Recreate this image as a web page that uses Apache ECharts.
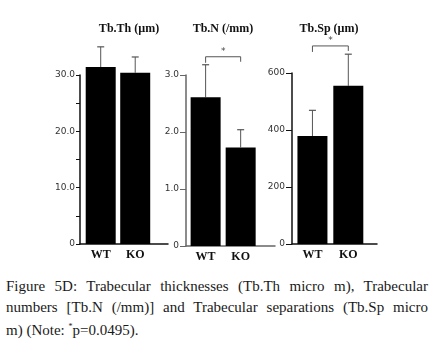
<!DOCTYPE html>
<html>
<head>
<meta charset="utf-8">
<script src="https://cdn.jsdelivr.net/npm/echarts@6/dist/echarts.min.js"></script>
<style>
  body { margin: 0; background: #fff; }
  #chart { position: absolute; left: 0; top: 0; width: 434px; height: 265px; }
  #cap { position: absolute; left: 6px; top: 276px; width: 422px;
         font-family: 'Liberation Serif', 'DejaVu Serif', serif; font-size: 15px;
         line-height: 20.5px; color: #1a1a1a; }
  #cap div { text-align: justify; text-align-last: justify; }
  #cap div.last { text-align: left; text-align-last: left; }
  #cap sup { font-size: 8px; vertical-align: 6px; }
</style>
</head>
<body>
<div id="chart"></div>
<div id="cap">
  <div>Figure 5D: Trabecular thicknesses (Tb.Th micro m), Trabecular</div>
  <div>numbers [Tb.N (/mm)] and Trabecular separations (Tb.Sp micro</div>
  <div class="last">m) (Note: <sup>*</sup>p=0.0495).</div>
</div>
<script>
var cats = ['WT', 'KO'];
var titles = ['Tb.Th (µm)', 'Tb.N (/mm)', 'Tb.Sp (µm)'];

// mean and SD for each panel, WT then KO
var thMean = [31.4, 30.4];
var thSd = [3.6, 2.8];
var nMean = [2.61, 1.73];
var nSd = [0.57, 0.31];
var spMean = [379, 555];
var spSd = [90, 111];

// significance brackets: [from, to, height]
var nSig = [0, 1, 3.32];
var spSig = [0, 1, 695];

// y axis ranges
var yMax = [30, 3, 600];
var yStep = [5, 1, 200];

var chart = echarts.init(document.getElementById('chart'));

var grids = [
  { left: 80, top: 75, width: 88, height: 169 },
  { left: 186, top: 75, width: 89, height: 171 },
  { left: 292, top: 73, width: 85, height: 171 }
];
var xRange = [[-0.6, 1.95], [-0.56, 1.98], [-0.57, 1.8]];
var titleX = [124, 218, 324];
var axisCol = ['#111', '#666', '#111'];

function errItem(params, api) {
  var x = api.value(0), m = api.value(1), s = api.value(2);
  var p0 = api.coord([x, m]);
  var p1 = api.coord([x, m + s]);
  return {
    type: 'group',
    children: [
      { type: 'line', shape: { x1: p0[0], y1: p0[1], x2: p1[0], y2: p1[1] }, style: { stroke: '#555', lineWidth: 1 } },
      { type: 'line', shape: { x1: p1[0] - 3.5, y1: p1[1], x2: p1[0] + 3.5, y2: p1[1] }, style: { stroke: '#555', lineWidth: 1.2 } }
    ]
  };
}

function sigItem(params, api) {
  var a = api.coord([api.value(0), api.value(2)]);
  var b = api.coord([api.value(1), api.value(2)]);
  return {
    type: 'group',
    children: [
      { type: 'polyline', shape: { points: [[a[0], a[1] + 6], a, b, [b[0], b[1] + 5]] },
        style: { stroke: '#555', lineWidth: 1, fill: null } },
      { type: 'text', style: { text: '*', x: (a[0] + b[0]) / 2, y: a[1] - 5, fill: '#444',
        font: '9px DejaVu Sans', textAlign: 'center', textVerticalAlign: 'middle' } }
    ]
  };
}

function fmt(i) {
  return function (v) {
    if (v === 0) return '0';
    if (i === 0) return v % 10 === 0 ? v.toFixed(1) : '';
    if (i === 1) return v.toFixed(1);
    return String(v);
  };
}

var means = [thMean, nMean, spMean];
var sds = [thSd, nSd, spSd];
var sigs = [null, nSig, spSig];

var xAxes = [], yAxes = [], series = [], titleList = [];
for (var i = 0; i < 3; i++) {
  titleList.push({
    text: titles[i], left: titleX[i], top: 18, textAlign: 'center',
    textStyle: { fontFamily: 'Liberation Serif', fontWeight: 'bold', fontSize: 12, color: '#111' }
  });
  xAxes.push({
    type: 'value', gridIndex: i, min: xRange[i][0], max: xRange[i][1],
    splitLine: { show: false },
    axisTick: { show: false },
    axisLine: { onZero: false, lineStyle: { color: axisCol[i], width: 1.5 } },
    axisLabel: {
      customValues: [0, 1], margin: 5,
      formatter: function (v) { return cats[Math.round(v)]; },
      fontFamily: 'Liberation Serif', fontWeight: 'bold', fontSize: 12, color: '#111'
    }
  });
  yAxes.push({
    type: 'value', gridIndex: i, min: 0, max: yMax[i], interval: yStep[i],
    splitLine: { show: false },
    axisLine: { show: true, onZero: false, lineStyle: { color: axisCol[i], width: 1.5 } },
    axisTick: { show: true, length: i === 0 ? 4 : 6, lineStyle: { color: axisCol[i] } },
    axisLabel: {
      margin: i === 0 ? 5 : 7, formatter: fmt(i),
      fontFamily: 'DejaVu Sans', fontSize: 9, color: '#333'
    }
  });
  var bars = [], errs = [];
  for (var k = 0; k < cats.length; k++) {
    bars.push([k, means[i][k]]);
    errs.push([k, means[i][k], sds[i][k]]);
  }
  series.push({
    type: 'custom', xAxisIndex: i, yAxisIndex: i, renderItem: errItem,
    data: errs, z: 1, silent: true
  });
  series.push({
    type: 'bar', xAxisIndex: i, yAxisIndex: i, data: bars, barWidth: 30,
    itemStyle: { color: '#000' }, clip: false, z: 2, silent: true
  });
  if (sigs[i]) {
    series.push({
      type: 'custom', xAxisIndex: i, yAxisIndex: i, renderItem: sigItem,
      data: [sigs[i]], z: 3, silent: true
    });
  }
}

var option = {
  animation: false,
  title: titleList,
  grid: grids,
  xAxis: xAxes,
  yAxis: yAxes,
  series: series
};

chart.setOption(option);
</script>
</body>
</html>
